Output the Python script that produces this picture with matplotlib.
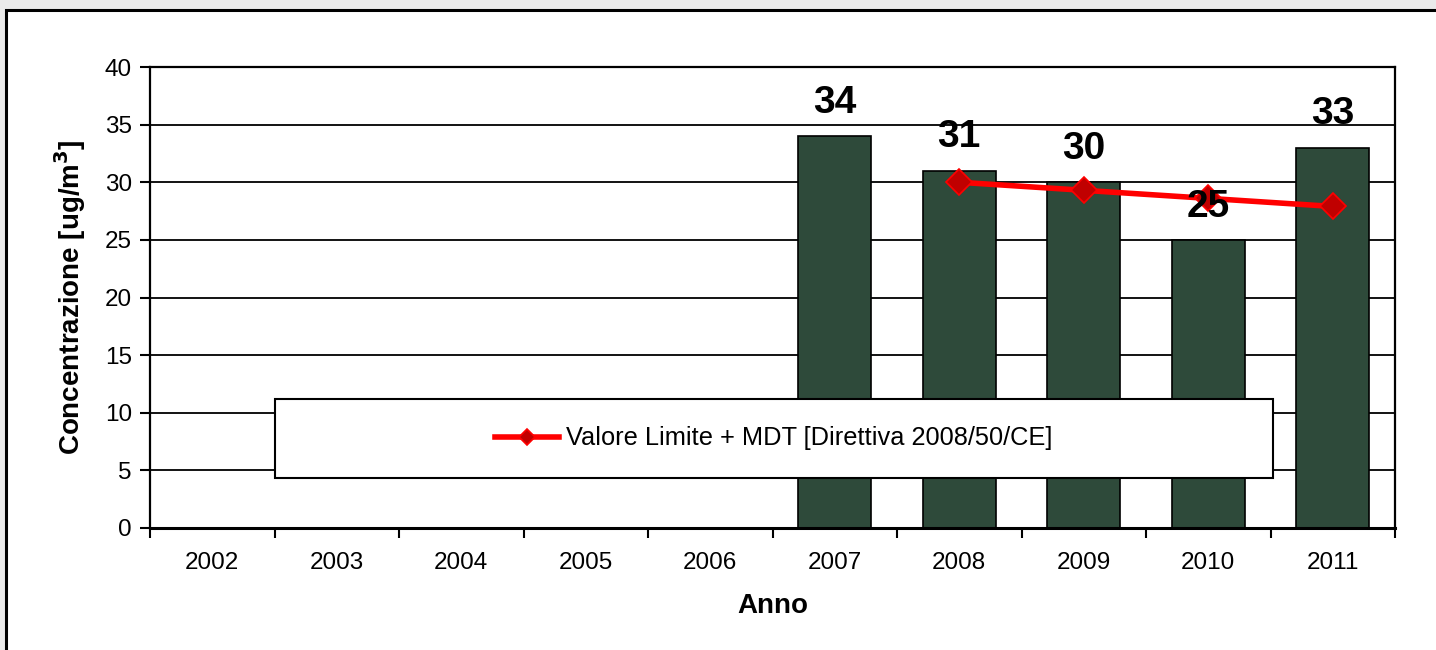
import matplotlib
matplotlib.use("Agg")
import matplotlib.pyplot as plt
from matplotlib.patches import Rectangle
import numpy as np

plt.rcParams['font.family'] = ['Liberation Sans', 'DejaVu Sans']

years = ['2002', '2003', '2004', '2005', '2006', '2007', '2008', '2009', '2010', '2011']
concentrazione = [None, None, None, None, None, 34, 31, 30, 25, 33]
limit_years = ['2008', '2009', '2010', '2011']
limit_values = [30.0, 29.3, 28.6, 27.9]
yticks = [0, 5, 10, 15, 20, 25, 30, 35, 40]

W, H = 1436, 650
fig = plt.figure(figsize=(W / 100, H / 100), dpi=100)
fig.patch.set_facecolor('#EAEAEA')

# white inner panel with black border
panel = Rectangle((6 / W, -0.01), 1.02, (H - 10) / H + 0.01, transform=fig.transFigure,
                  facecolor='white', edgecolor='black', linewidth=2.2, zorder=-10)
fig.patches.append(panel)

ax = fig.add_axes([150 / W, 1 - 528 / H, (1395 - 150) / W, (528 - 67) / H])
ax.set_zorder(1)
ax.set_facecolor('white')

x = np.arange(len(years))
bar_x = [i for i, v in enumerate(concentrazione) if v is not None]
bar_v = [v for v in concentrazione if v is not None]
ax.bar(bar_x, bar_v, width=0.59, color='#2E4A3A', edgecolor='black', linewidth=1.2, zorder=2)

lx = [years.index(y) for y in limit_years]
ax.plot(lx, limit_values, color='#FF0000', linewidth=4, marker='D', markersize=13,
        markerfacecolor='#C00000', markeredgecolor='#FF0000', markeredgewidth=1.2,
        zorder=3, label='Valore Limite + MDT [Direttiva 2008/50/CE]')

for xi, v in zip(bar_x, bar_v):
    ax.annotate(str(v), (xi, v), xytext=(0, 24), textcoords='offset points',
                ha='center', va='center', fontsize=28, fontweight='bold', zorder=6)

ax.set_xlim(-0.5, len(years) - 0.5)
ax.set_ylim(0, 40)
ax.set_yticks(yticks)
ax.set_yticklabels([str(t) for t in yticks])
ax.yaxis.grid(True, color='black', linewidth=1.3, zorder=1)
ax.set_axisbelow(True)

ax.set_xticks(x)
ax.set_xticklabels(years)
ax.set_xticks(np.arange(-0.5, len(years), 1), minor=True)
ax.tick_params(axis='x', which='major', length=0, pad=17, labelsize=17.5)
ax.tick_params(axis='x', which='minor', length=7, width=1.5, direction='out')
ax.tick_params(axis='y', length=7, width=1.5, direction='out', labelsize=17.5, pad=6)

for s in ax.spines.values():
    s.set_color('black')
    s.set_linewidth(1.6)
ax.spines['bottom'].set_linewidth(2.2)

ax.set_xlabel('Anno', fontsize=20, fontweight='bold', labelpad=14)
ax.set_ylabel('Concentrazione [ug/m$^{\\mathbf{3}}$]', fontsize=20, fontweight='bold', labelpad=12)

# legend box
box = Rectangle(((275 - 150) / 1245, (528 - 478) / 461), 998 / 1245, 79 / 461,
                transform=ax.transAxes, facecolor='white', edgecolor='black',
                linewidth=1.5, zorder=4.5)
ax.add_patch(box)
leg = ax.legend(loc='center', bbox_to_anchor=((774 - 150) / 1245, (528 - 438.5) / 461),
                frameon=False, fontsize=18.3, handlelength=2.5, handletextpad=0.3,
                markerscale=0.6)
leg.set_zorder(5)

fig.savefig('out.png', dpi=100, facecolor=fig.get_facecolor())
